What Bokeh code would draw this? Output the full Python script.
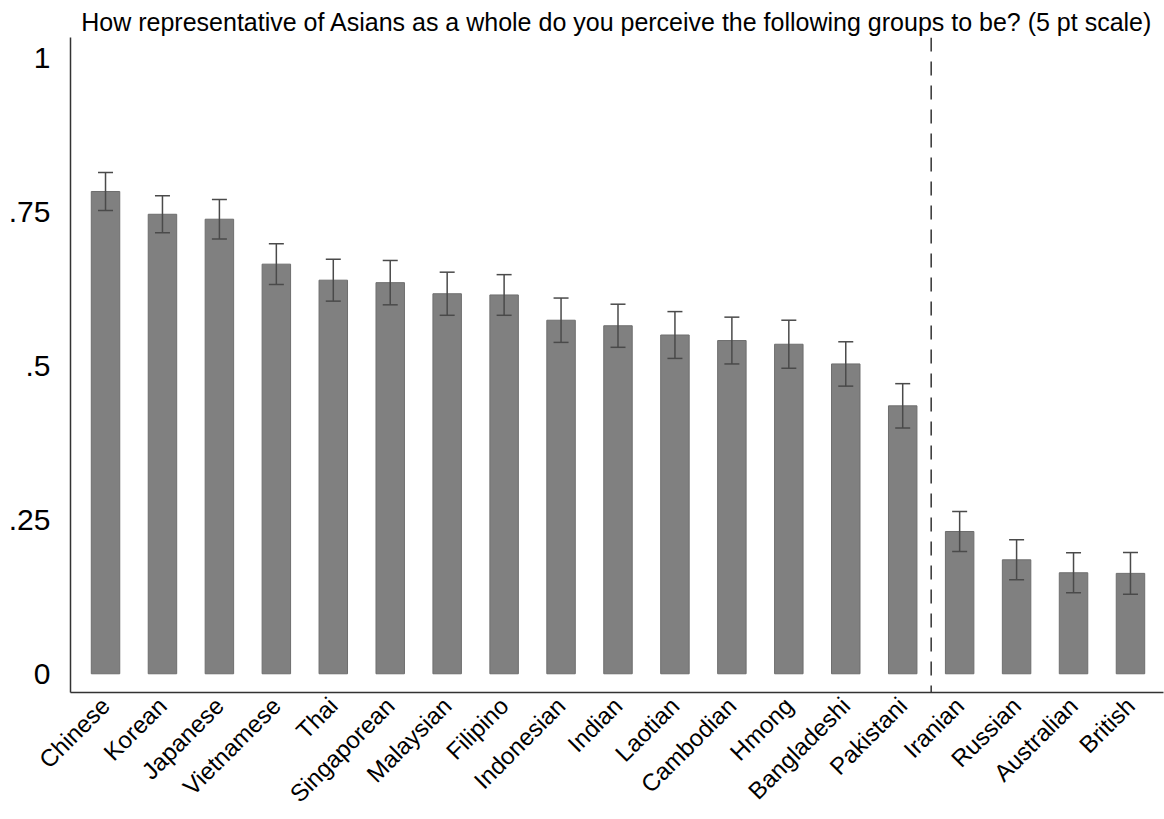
from bokeh.plotting import figure
from bokeh.models import ColumnDataSource, Range1d, FixedTicker, Span, Whisker, TeeHead
from bokeh.embed import file_html
from bokeh.resources import INLINE
import math

groups = ["Chinese", "Korean", "Japanese", "Vietnamese", "Thai", "Singaporean",
          "Malaysian", "Filipino", "Indonesian", "Indian", "Laotian", "Cambodian",
          "Hmong", "Bangladeshi", "Pakistani", "Iranian", "Russian", "Australian", "British"]
means = [0.783, 0.746, 0.738, 0.665, 0.639, 0.635, 0.617, 0.615, 0.574, 0.565,
         0.550, 0.541, 0.535, 0.503, 0.435, 0.231, 0.185, 0.164, 0.163]
ci_half = [0.031, 0.030, 0.032, 0.033, 0.034, 0.036, 0.035, 0.033, 0.036, 0.035,
           0.038, 0.038, 0.039, 0.036, 0.036, 0.0325, 0.0325, 0.0325, 0.034]
y_ticks = [0, 0.25, 0.5, 0.75, 1]
y_tick_labels = ["0", ".25", ".5", ".75", "1"]
divider_after = 14  # index of last Asian group before the dashed line

xs = list(range(len(groups)))
src = ColumnDataSource(dict(
    x=xs, mean=means,
    lo=[m - c for m, c in zip(means, ci_half)],
    hi=[m + c for m, c in zip(means, ci_half)],
))

FONT = "Liberation Sans"

p = figure(width=1164, height=819, output_backend="svg", toolbar_location=None,
           x_range=Range1d(-0.615, 18.58), y_range=Range1d(-0.0304, 1.033),
           min_border_left=70, min_border_right=1, min_border_top=37, min_border_bottom=120)

p.title.text = "How representative of Asians as a whole do you perceive the following groups to be? (5 pt scale)"
p.title.align = "center"
p.title.text_font = FONT
p.title.text_font_size = "25px"
p.title.text_font_style = "normal"
p.title.text_color = "black"
p.title.standoff = 4

p.vbar(x="x", top="mean", bottom=0, width=0.5, source=src,
       fill_color="#808080", line_color="#6e6e6e", line_width=1)

w = Whisker(base="x", upper="hi", lower="lo", source=src, level="annotation",
            line_color="#4a4a4a", line_width=1.5,
            upper_head=TeeHead(size=15, line_color="#4a4a4a", line_width=1.5),
            lower_head=TeeHead(size=15, line_color="#4a4a4a", line_width=1.5))
p.add_layout(w)

p.add_layout(Span(location=divider_after + 0.5, dimension="height",
                  line_color="#333333", line_width=1.5, line_dash="14 10"))

p.grid.visible = False
p.outline_line_color = None
p.background_fill_color = "white"
p.border_fill_color = "white"

ya = p.yaxis[0]
ya.ticker = FixedTicker(ticks=y_ticks)
ya.major_label_overrides = {float(t): l for t, l in zip(y_ticks, y_tick_labels)}
ya.major_tick_in = 0
ya.major_tick_out = 0
ya.minor_tick_line_color = None
ya.major_label_standoff = 20
ya.major_label_text_font = FONT
ya.major_label_text_font_size = "30px"
ya.major_label_text_color = "black"
ya.axis_line_color = "#333333"
ya.axis_line_width = 1.5

xa = p.xaxis[0]
xa.ticker = FixedTicker(ticks=xs)
xa.major_label_overrides = {i: g for i, g in enumerate(groups)}
xa.major_label_orientation = math.pi / 4
xa.major_tick_in = 0
xa.major_tick_out = 0
xa.minor_tick_line_color = None
xa.major_label_standoff = 9
xa.major_label_text_font = FONT
xa.major_label_text_font_size = "24px"
xa.major_label_text_color = "black"
xa.axis_line_color = "#333333"
xa.axis_line_width = 1.5

open("out.html", "w").write(file_html(p, INLINE))
